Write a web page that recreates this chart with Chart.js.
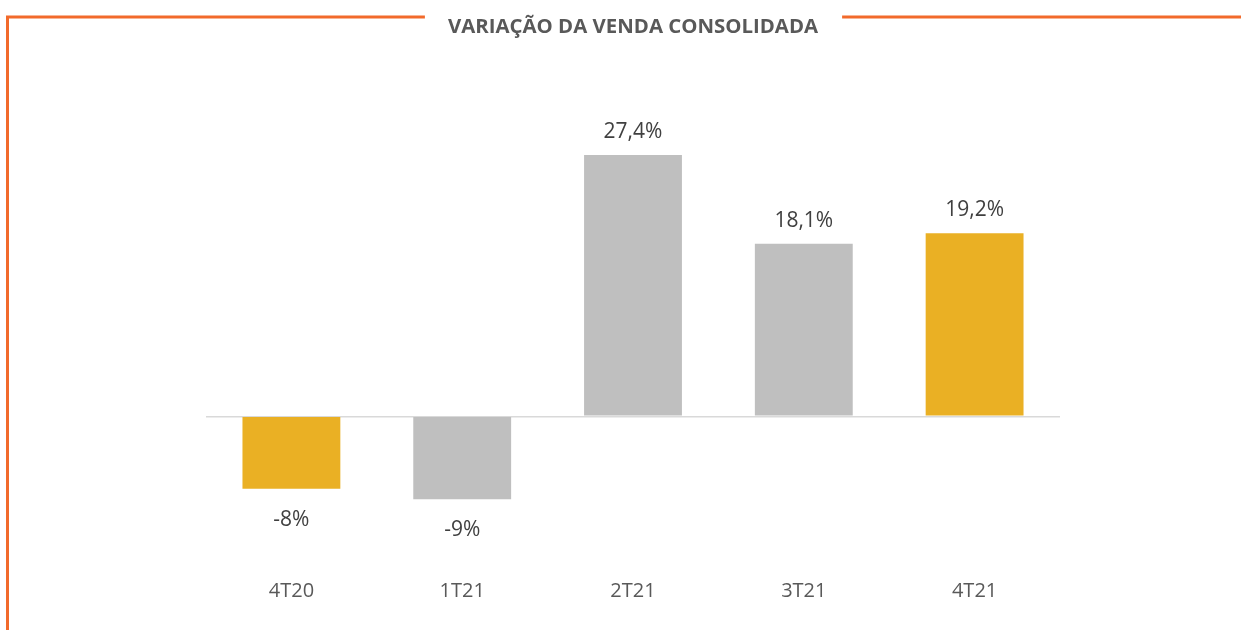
<!DOCTYPE html>
<html><head><meta charset="utf-8">
<script src="https://cdn.jsdelivr.net/npm/chart.js@4/dist/chart.umd.min.js"></script>
<style>html,body{margin:0;padding:0;background:#fff;}#wrap{width:1241px;height:630px;position:relative;}</style>
</head><body><div id="wrap"><canvas id="c" width="1241" height="630"></canvas></div>
<script>
const categories = ["4T20", "1T21", "2T21", "3T21", "4T21"];
const values = [-7.6, -8.7, 27.4, 18.1, 19.2];
const valueLabels = ["-8%", "-9%", "27,4%", "18,1%", "19,2%"];
const barColors = ["#EAB024", "#BFBFBF", "#BFBFBF", "#BFBFBF", "#EAB024"];
const titleText = "VARIAÇÃO DA VENDA CONSOLIDADA";

const framePlugin = {
  id: 'frame',
  afterDraw(chart) {
    const ctx = chart.ctx;
    ctx.save();
    ctx.font = 'bold 20.4px "Open Sans"';
    const tw = ctx.measureText(titleText).width;
    const cx = (chart.chartArea.left + chart.chartArea.right) / 2;
    ctx.strokeStyle = '#F26A2B';
    ctx.lineWidth = 3;
    ctx.beginPath();
    ctx.moveTo(7.5, 630);
    ctx.lineTo(7.5, 17);
    ctx.lineTo(cx - tw / 2 - 23, 17);
    ctx.moveTo(cx + tw / 2 + 24, 17);
    ctx.lineTo(1241, 17);
    ctx.stroke();
    ctx.restore();
  }
};

const labelPlugin = {
  id: 'vlabels',
  afterDatasetsDraw(chart) {
    const ctx = chart.ctx;
    const meta = chart.getDatasetMeta(0);
    ctx.save();
    ctx.font = '21px "Open Sans"';
    ctx.fillStyle = '#404040';
    ctx.textAlign = 'center';
    ctx.textBaseline = 'middle';
    meta.data.forEach((bar, i) => {
      const v = values[i];
      const y = v >= 0 ? bar.y - 23 : bar.y + 31;
      ctx.fillText(valueLabels[i], bar.x, y);
    });
    ctx.restore();
  }
};

new Chart(document.getElementById('c'), {
  type: 'bar',
  data: {
    labels: categories,
    datasets: [{
      data: values,
      backgroundColor: barColors,
      borderWidth: 0,
      categoryPercentage: 1,
      barPercentage: 0.573
    }]
  },
  options: {
    responsive: false,
    animation: false,
    devicePixelRatio: 1,
    layout: { padding: { left: 206, right: 181, top: 0, bottom: 25.5 } },
    plugins: {
      legend: { display: false },
      tooltip: { enabled: false },
      title: {
        display: true,
        text: titleText,
        color: '#595959',
        font: { family: '"Open Sans"', size: 20.4, weight: 'bold' },
        padding: { top: 14.5, bottom: 91.22 }
      }
    },
    scales: {
      x: {
        grid: { display: false, drawTicks: false },
        border: { display: false },
        ticks: { color: '#595959', font: { family: '"Open Sans"', size: 20 }, padding: 1 }
      },
      y: {
        display: true,
        min: -17, max: 30,
        ticks: { display: false, stepSize: 1 },
        border: { display: false },
        grid: {
          drawTicks: false,
          color: (c) => c.tick && c.tick.value === 0 ? '#D9D9D9' : 'rgba(0,0,0,0)',
          lineWidth: (c) => c.tick && c.tick.value === 0 ? 1.5 : 0
        }
      }
    }
  },
  plugins: [framePlugin, labelPlugin]
});
</script></body></html>
